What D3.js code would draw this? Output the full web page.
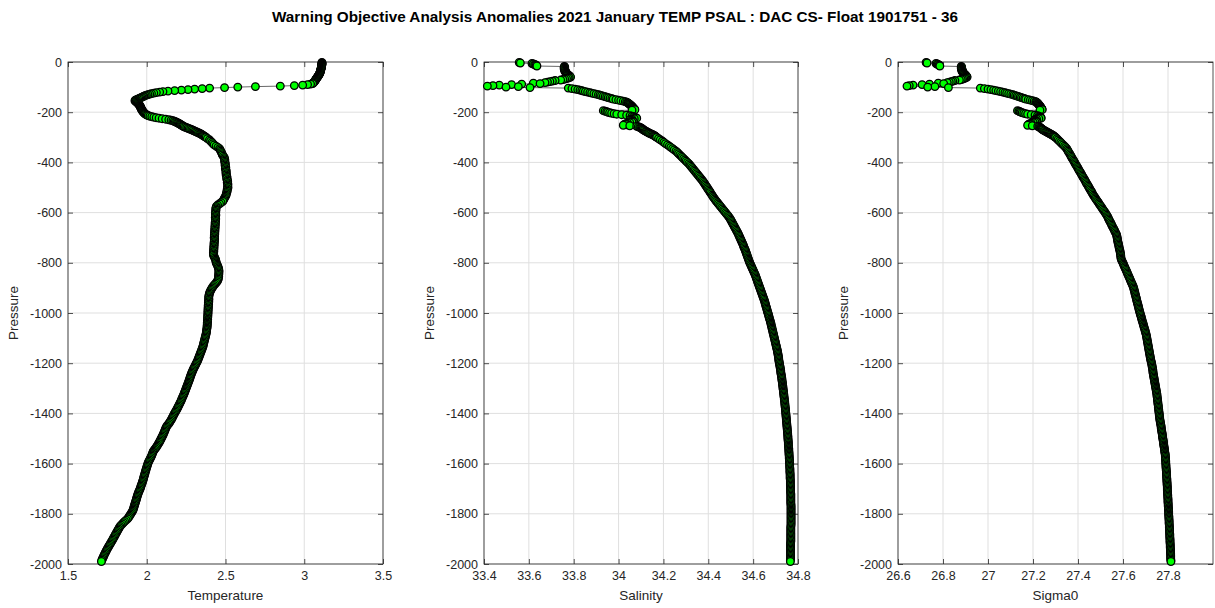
<!DOCTYPE html>
<html>
<head>
<meta charset="utf-8">
<script src="https://cdn.jsdelivr.net/npm/d3@7"></script>
<style>
  html, body { margin: 0; padding: 0; background: #fff; }
  svg { display: block; }
  text { font-family: "Liberation Sans", Arial, Helvetica, sans-serif; }
</style>
</head>
<body>
<svg id="chart" width="1215" height="608"></svg>
<script>
// Float 1901751, cycle 36: pressure levels (dbar) and the measured profiles.
const pres = [
  2,4,6,8,10,12,14,16,18,20,
  22,24,26,28,30,32,34,36,38,40,
  42,44,46,48,50,52,54,56,58,60,
  62,64,66,68,70,72,74,76,78,80,
  82,84,86,88,90,92,94,96,98,100,
  102,104,106,108,110,112,114,116,118,120,
  122,124,126,128,130,132,134,136,138,140,
  142,144,146,148,150,152,154,156,158,160,
  162,164,166,168,170,172,174,176,178,180,
  182,184,186,188,190,192,194,196,198,200,
  202,204,206,208,210,212,214,216,218,220,
  222,224,226,228,230,232,234,236,238,240,
  242,244,246,248,250,252,254,256,258,260,
  262,264,266,268,270,272,274,276,278,280,
  282,284,286,288,290,292,294,296,298,300,
  305,310,315,320,325,330,335,340,345,350,
  355,360,365,370,375,380,385,390,395,400,
  405,410,415,420,425,430,435,440,445,450,
  455,460,465,470,475,480,485,490,495,500,
  505,510,515,520,525,530,535,540,545,550,
  555,560,565,570,575,580,585,590,595,600,
  605,610,615,620,625,630,635,640,645,650,
  655,660,665,670,675,680,685,690,695,700,
  705,710,715,720,725,730,735,740,745,750,
  755,760,765,770,775,780,785,790,795,800,
  805,810,815,820,825,830,835,840,845,850,
  855,860,865,870,875,880,885,890,895,900,
  905,910,915,920,925,930,935,940,945,950,
  955,960,965,970,975,980,985,990,995,1000,
  1005,1010,1015,1020,1025,1030,1035,1040,1045,1050,
  1055,1060,1065,1070,1075,1080,1085,1090,1095,1100,
  1105,1110,1115,1120,1125,1130,1135,1140,1145,1150,
  1155,1160,1165,1170,1175,1180,1185,1190,1195,1200,
  1205,1210,1215,1220,1225,1230,1235,1240,1245,1250,
  1255,1260,1265,1270,1275,1280,1285,1290,1295,1300,
  1305,1310,1315,1320,1325,1330,1335,1340,1345,1350,
  1355,1360,1365,1370,1375,1380,1385,1390,1395,1400,
  1405,1410,1415,1420,1425,1430,1435,1440,1445,1450,
  1455,1460,1465,1470,1475,1480,1485,1490,1495,1500,
  1505,1510,1515,1520,1525,1530,1535,1540,1545,1550,
  1555,1560,1565,1570,1575,1580,1585,1590,1595,1600,
  1605,1610,1615,1620,1625,1630,1635,1640,1645,1650,
  1655,1660,1665,1670,1675,1680,1685,1690,1695,1700,
  1705,1710,1715,1720,1725,1730,1735,1740,1745,1750,
  1755,1760,1765,1770,1775,1780,1785,1790,1795,1800,
  1805,1810,1815,1820,1825,1830,1835,1840,1845,1850,
  1855,1860,1865,1870,1875,1880,1885,1890,1895,1900,
  1905,1910,1915,1920,1925,1930,1935,1940,1945,1950,
  1955,1960,1965,1970,1975,1980,1985,1990
];

const temp = [
  3.112,3.113,3.113,3.112,3.112,3.111,3.111,3.110,3.110,3.109,
  3.109,3.108,3.107,3.106,3.105,3.104,3.104,3.103,3.102,3.101,
  3.100,3.099,3.097,3.096,3.094,3.092,3.090,3.088,3.086,3.084,
  3.081,3.079,3.077,3.075,3.073,3.071,3.069,3.067,3.064,3.062,
  3.059,3.056,3.053,3.040,3.021,2.990,2.937,2.848,2.690,2.578,
  2.494,2.399,2.352,2.304,2.262,2.220,2.177,2.135,2.103,2.082,
  2.061,2.045,2.030,2.019,2.008,1.998,1.990,1.982,1.977,1.970,
  1.963,1.956,1.950,1.942,1.935,1.928,1.925,1.928,1.932,1.936,
  1.940,1.943,1.946,1.949,1.952,1.954,1.956,1.958,1.960,1.961,
  1.962,1.964,1.965,1.967,1.968,1.970,1.972,1.974,1.977,1.979,
  1.982,1.985,1.988,1.992,1.997,2.003,2.010,2.020,2.032,2.045,
  2.060,2.078,2.098,2.120,2.140,2.155,2.166,2.175,2.182,2.189,
  2.195,2.201,2.207,2.212,2.217,2.222,2.227,2.232,2.238,2.246,
  2.254,2.262,2.270,2.278,2.286,2.293,2.300,2.307,2.314,2.321,
  2.328,2.335,2.341,2.347,2.352,2.356,2.361,2.366,2.371,2.377,
  2.385,2.398,2.405,2.414,2.420,2.428,2.440,2.452,2.462,2.466,
  2.470,2.474,2.478,2.480,2.486,2.492,2.494,2.496,2.494,2.497,
  2.499,2.497,2.500,2.502,2.499,2.503,2.505,2.502,2.506,2.504,
  2.508,2.510,2.507,2.512,2.514,2.511,2.515,2.515,2.513,2.516,
  2.512,2.510,2.511,2.507,2.505,2.504,2.500,2.495,2.491,2.487,
  2.483,2.472,2.462,2.450,2.442,2.440,2.438,2.440,2.437,2.438,
  2.436,2.439,2.437,2.435,2.438,2.436,2.437,2.434,2.436,2.433,
  2.435,2.432,2.434,2.431,2.433,2.430,2.432,2.429,2.431,2.428,
  2.431,2.429,2.430,2.427,2.429,2.426,2.428,2.425,2.427,2.424,
  2.426,2.423,2.425,2.424,2.428,2.432,2.436,2.438,2.440,2.441,
  2.445,2.449,2.452,2.455,2.457,2.458,2.459,2.457,2.458,2.456,
  2.457,2.455,2.454,2.451,2.446,2.440,2.433,2.426,2.420,2.415,
  2.410,2.406,2.402,2.399,2.397,2.395,2.394,2.393,2.395,2.392,
  2.394,2.391,2.393,2.390,2.392,2.389,2.391,2.388,2.390,2.388,
  2.389,2.387,2.388,2.386,2.387,2.385,2.386,2.384,2.385,2.383,
  2.384,2.382,2.381,2.380,2.379,2.378,2.376,2.374,2.372,2.370,
  2.368,2.366,2.364,2.362,2.360,2.358,2.356,2.353,2.350,2.347,
  2.344,2.341,2.338,2.335,2.332,2.329,2.326,2.323,2.319,2.315,
  2.311,2.307,2.303,2.299,2.295,2.292,2.288,2.285,2.282,2.279,
  2.276,2.274,2.271,2.268,2.265,2.262,2.259,2.256,2.253,2.250,
  2.247,2.244,2.241,2.238,2.235,2.231,2.228,2.224,2.221,2.218,
  2.214,2.210,2.206,2.202,2.198,2.194,2.190,2.185,2.181,2.176,
  2.172,2.168,2.164,2.160,2.156,2.151,2.146,2.141,2.135,2.128,
  2.124,2.120,2.117,2.114,2.111,2.107,2.104,2.100,2.096,2.092,
  2.088,2.084,2.080,2.075,2.070,2.065,2.060,2.054,2.048,2.042,
  2.039,2.036,2.033,2.030,2.026,2.022,2.018,2.014,2.010,2.007,
  2.005,2.002,2.000,1.997,1.995,1.992,1.990,1.988,1.986,1.983,
  1.981,1.979,1.977,1.974,1.972,1.969,1.966,1.963,1.961,1.958,
  1.955,1.951,1.948,1.945,1.942,1.940,1.937,1.935,1.933,1.930,
  1.928,1.925,1.923,1.920,1.918,1.915,1.913,1.909,1.904,1.899,
  1.894,1.889,1.884,1.878,1.869,1.860,1.852,1.845,1.837,1.830,
  1.826,1.821,1.817,1.812,1.808,1.803,1.799,1.795,1.790,1.786,
  1.782,1.777,1.772,1.768,1.763,1.758,1.754,1.749,1.745,1.741,
  1.737,1.733,1.729,1.726,1.722,1.718,1.715,1.712
];

const psal = [
  33.557,33.562,33.614,33.620,33.626,33.630,33.633,33.636,33.758,33.760,
  33.758,33.757,33.759,33.760,33.758,33.761,33.762,33.760,33.763,33.764,
  33.766,33.767,33.769,33.771,33.773,33.776,33.779,33.782,33.784,33.786,
  33.780,33.775,33.768,33.760,33.752,33.742,33.717,33.705,33.694,33.683,
  33.672,33.620,33.650,33.568,33.523,33.468,33.440,33.415,33.553,33.498,
  33.605,33.776,33.792,33.806,33.818,33.828,33.836,33.843,33.852,33.862,
  33.872,33.880,33.890,33.900,33.910,33.917,33.924,33.932,33.940,33.947,
  33.954,33.962,33.970,33.976,33.988,34.000,34.010,34.021,34.030,34.036,
  34.040,34.043,34.046,34.049,34.051,34.054,34.057,34.059,34.061,34.063,
  34.065,34.066,34.069,34.071,34.073,34.060,33.932,33.940,33.947,33.952,
  33.960,33.969,33.980,33.992,34.014,34.036,34.051,34.060,34.066,34.072,
  34.078,34.081,34.070,34.060,34.051,34.055,34.060,34.064,34.066,34.060,
  34.050,34.040,34.033,34.027,34.036,34.021,34.050,34.081,34.088,34.094,
  34.098,34.102,34.105,34.108,34.110,34.114,34.118,34.122,34.126,34.130,
  34.134,34.138,34.143,34.148,34.153,34.157,34.161,34.164,34.167,34.170,
  34.178,34.186,34.195,34.202,34.209,34.218,34.226,34.233,34.241,34.248,
  34.256,34.262,34.267,34.273,34.279,34.284,34.290,34.296,34.301,34.307,
  34.313,34.318,34.322,34.327,34.331,34.336,34.340,34.345,34.349,34.354,
  34.358,34.363,34.367,34.372,34.376,34.380,34.384,34.387,34.391,34.395,
  34.398,34.402,34.406,34.409,34.413,34.417,34.420,34.424,34.428,34.432,
  34.436,34.441,34.445,34.450,34.454,34.459,34.463,34.468,34.472,34.477,
  34.481,34.486,34.490,34.494,34.498,34.501,34.504,34.507,34.510,34.513,
  34.516,34.519,34.522,34.525,34.528,34.531,34.534,34.536,34.539,34.541,
  34.544,34.546,34.549,34.551,34.554,34.556,34.558,34.560,34.563,34.565,
  34.567,34.569,34.571,34.573,34.575,34.577,34.579,34.581,34.583,34.585,
  34.588,34.590,34.593,34.595,34.598,34.600,34.603,34.605,34.608,34.610,
  34.612,34.614,34.616,34.618,34.620,34.622,34.624,34.626,34.628,34.630,
  34.632,34.634,34.636,34.638,34.640,34.642,34.644,34.646,34.648,34.650,
  34.652,34.653,34.655,34.656,34.658,34.660,34.661,34.663,34.664,34.666,
  34.668,34.669,34.671,34.672,34.674,34.676,34.677,34.679,34.680,34.681,
  34.683,34.684,34.685,34.687,34.688,34.689,34.691,34.692,34.693,34.695,
  34.696,34.697,34.699,34.700,34.701,34.703,34.704,34.705,34.707,34.708,
  34.709,34.710,34.711,34.712,34.713,34.714,34.714,34.715,34.716,34.717,
  34.718,34.719,34.720,34.721,34.722,34.723,34.723,34.724,34.725,34.726,
  34.727,34.728,34.728,34.729,34.730,34.731,34.731,34.732,34.733,34.733,
  34.734,34.735,34.735,34.736,34.737,34.737,34.738,34.739,34.739,34.740,
  34.741,34.741,34.742,34.742,34.743,34.744,34.744,34.745,34.745,34.746,
  34.746,34.747,34.747,34.748,34.748,34.749,34.749,34.750,34.750,34.751,
  34.751,34.752,34.752,34.753,34.753,34.754,34.754,34.755,34.755,34.755,
  34.756,34.756,34.757,34.757,34.757,34.758,34.758,34.759,34.759,34.759,
  34.760,34.760,34.760,34.761,34.761,34.761,34.762,34.762,34.762,34.763,
  34.763,34.763,34.763,34.764,34.764,34.764,34.764,34.765,34.765,34.765,
  34.765,34.765,34.766,34.766,34.766,34.766,34.766,34.767,34.767,34.767,
  34.767,34.767,34.767,34.768,34.768,34.768,34.768,34.768,34.768,34.768,
  34.768,34.768,34.769,34.769,34.769,34.769,34.769,34.769,34.769,34.769,
  34.769,34.769,34.769,34.769,34.769,34.769,34.769,34.769,34.769,34.768,
  34.768,34.768,34.768,34.768,34.768,34.768,34.768,34.768,34.768,34.768,
  34.768,34.768,34.767,34.767,34.767,34.767,34.767,34.767,34.767,34.767,
  34.767,34.767,34.767,34.767,34.767,34.766,34.766,34.766
];

const sig0 = [
  26.725,26.729,26.769,26.774,26.778,26.782,26.784,26.786,26.881,26.883,
  26.882,26.881,26.883,26.884,26.882,26.885,26.886,26.884,26.887,26.888,
  26.889,26.890,26.893,26.895,26.898,26.900,26.902,26.904,26.906,26.907,
  26.902,26.898,26.893,26.887,26.881,26.873,26.853,26.844,26.837,26.828,
  26.819,26.779,26.803,26.740,26.707,26.667,26.650,26.640,26.764,26.732,
  26.824,26.966,26.984,27.000,27.013,27.025,27.035,27.046,27.056,27.066,
  27.075,27.083,27.092,27.101,27.110,27.116,27.123,27.130,27.136,27.143,
  27.149,27.156,27.163,27.168,27.179,27.188,27.197,27.205,27.212,27.215,
  27.218,27.221,27.222,27.224,27.226,27.228,27.230,27.231,27.233,27.234,
  27.236,27.237,27.239,27.240,27.241,27.231,27.131,27.137,27.142,27.146,
  27.152,27.159,27.167,27.176,27.192,27.209,27.220,27.226,27.230,27.233,
  27.236,27.236,27.226,27.216,27.207,27.209,27.211,27.214,27.215,27.209,
  27.201,27.192,27.186,27.181,27.187,27.176,27.197,27.221,27.226,27.230,
  27.233,27.236,27.238,27.241,27.244,27.248,27.252,27.256,27.260,27.264,
  27.268,27.272,27.276,27.280,27.284,27.288,27.291,27.294,27.297,27.300,
  27.306,27.311,27.317,27.323,27.328,27.334,27.340,27.345,27.350,27.353,
  27.356,27.359,27.363,27.366,27.369,27.372,27.375,27.379,27.382,27.385,
  27.388,27.391,27.395,27.398,27.401,27.404,27.407,27.411,27.414,27.417,
  27.420,27.423,27.427,27.430,27.433,27.436,27.439,27.443,27.446,27.449,
  27.452,27.455,27.459,27.462,27.465,27.468,27.472,27.476,27.479,27.483,
  27.487,27.491,27.494,27.498,27.502,27.506,27.509,27.513,27.517,27.521,
  27.524,27.528,27.531,27.534,27.536,27.539,27.542,27.545,27.548,27.550,
  27.553,27.556,27.559,27.562,27.564,27.567,27.570,27.572,27.573,27.574,
  27.575,27.576,27.577,27.578,27.580,27.581,27.582,27.583,27.584,27.586,
  27.587,27.588,27.589,27.590,27.590,27.591,27.592,27.594,27.597,27.600,
  27.602,27.604,27.607,27.609,27.612,27.614,27.617,27.619,27.621,27.624,
  27.626,27.629,27.631,27.633,27.636,27.638,27.641,27.643,27.646,27.647,
  27.649,27.650,27.652,27.653,27.654,27.656,27.657,27.659,27.660,27.661,
  27.663,27.664,27.666,27.667,27.669,27.670,27.671,27.673,27.674,27.676,
  27.677,27.679,27.681,27.682,27.684,27.685,27.687,27.689,27.690,27.692,
  27.693,27.695,27.697,27.698,27.700,27.701,27.703,27.704,27.705,27.706,
  27.707,27.708,27.709,27.710,27.711,27.712,27.713,27.714,27.715,27.716,
  27.717,27.718,27.719,27.720,27.721,27.722,27.723,27.724,27.726,27.727,
  27.728,27.729,27.730,27.731,27.732,27.733,27.733,27.734,27.735,27.736,
  27.737,27.738,27.739,27.740,27.741,27.742,27.743,27.744,27.745,27.746,
  27.747,27.748,27.749,27.750,27.751,27.751,27.752,27.753,27.753,27.754,
  27.755,27.755,27.756,27.757,27.757,27.758,27.759,27.759,27.760,27.761,
  27.761,27.762,27.763,27.763,27.764,27.765,27.766,27.767,27.768,27.769,
  27.770,27.770,27.771,27.772,27.773,27.774,27.775,27.775,27.776,27.777,
  27.778,27.779,27.780,27.780,27.781,27.782,27.783,27.784,27.785,27.785,
  27.786,27.787,27.788,27.788,27.789,27.789,27.789,27.790,27.790,27.790,
  27.791,27.791,27.791,27.792,27.792,27.793,27.793,27.793,27.794,27.794,
  27.794,27.795,27.795,27.795,27.796,27.796,27.796,27.797,27.797,27.797,
  27.797,27.798,27.798,27.798,27.799,27.799,27.799,27.800,27.800,27.800,
  27.800,27.801,27.801,27.801,27.802,27.802,27.802,27.803,27.803,27.803,
  27.803,27.804,27.804,27.804,27.805,27.805,27.805,27.805,27.806,27.806,
  27.806,27.807,27.807,27.807,27.807,27.808,27.808,27.808,27.808,27.809,
  27.809,27.809,27.809,27.810,27.810,27.810,27.810,27.811,27.811,27.811,
  27.811,27.812,27.812,27.812,27.812,27.812,27.813,27.813
];

// Axis ticks
const pressureTicks = [-2000,-1800,-1600,-1400,-1200,-1000,-800,-600,-400,-200,0];
const tempTicks = [1.5, 2, 2.5, 3, 3.5];
const psalTicks = [33.4, 33.6, 33.8, 34, 34.2, 34.4, 34.6, 34.8];
const sig0Ticks = [26.6, 26.8, 27, 27.2, 27.4, 27.6, 27.8];

const titleText = "Warning Objective Analysis Anomalies 2021 January TEMP PSAL :  DAC CS- Float 1901751 - 36";

// ---- layout ----
const plotTop = 62, plotBottom = 564;
const panels = [
  { values: temp, domain: [1.5, 3.5],  ticks: tempTicks, label: "Temperature", left: 68,  right: 383 },
  { values: psal, domain: [33.4, 34.8], ticks: psalTicks, label: "Salinity",    left: 484, right: 798 },
  { values: sig0, domain: [26.6, 28.0], ticks: sig0Ticks, label: "Sigma0",      left: 898, right: 1213 }
];

const axisColor = "#262626";
const gridColor = "#dfdfdf";
const tickLen = 5;
const fontStack = "'Liberation Sans', Arial, Helvetica, sans-serif";

const svg = d3.select("#chart");

svg.append("text")
  .attr("x", 615).attr("y", 22)
  .attr("text-anchor", "middle")
  .attr("font-size", 15).attr("font-weight", "bold")
  .attr("fill", "#000")
  .attr("textLength", 686).attr("lengthAdjust", "spacingAndGlyphs")
  .text(titleText);

const y = d3.scaleLinear().domain([-2000, 0]).range([plotBottom, plotTop]);

panels.forEach(p => {
  const x = d3.scaleLinear().domain(p.domain).range([p.left, p.right]);
  const g = svg.append("g");

  // grid
  g.append("g").selectAll("line").data(p.ticks).join("line")
    .attr("x1", d => x(d)).attr("x2", d => x(d))
    .attr("y1", plotTop).attr("y2", plotBottom)
    .attr("stroke", gridColor).attr("stroke-width", 1);
  g.append("g").selectAll("line").data(pressureTicks).join("line")
    .attr("x1", p.left).attr("x2", p.right)
    .attr("y1", d => y(d)).attr("y2", d => y(d))
    .attr("stroke", gridColor).attr("stroke-width", 1);

  // axes with inward ticks on all four sides
  const styleAxis = sel => {
    sel.select(".domain").remove();
    sel.selectAll(".tick line").attr("stroke", axisColor).attr("stroke-width", 0.8);
    sel.selectAll(".tick text").attr("fill", axisColor).attr("font-size", 12.5)
      .attr("font-family", fontStack);
  };
  g.append("g").attr("transform", `translate(0,${plotBottom})`)
    .call(d3.axisBottom(x).tickValues(p.ticks).tickSizeInner(-tickLen).tickSizeOuter(0)
      .tickPadding(7).tickFormat(d => String(d)))
    .call(styleAxis);
  g.append("g").attr("transform", `translate(0,${plotTop})`)
    .call(d3.axisTop(x).tickValues(p.ticks).tickSizeInner(-tickLen).tickSizeOuter(0).tickFormat(""))
    .call(styleAxis);
  g.append("g").attr("transform", `translate(${p.left},0)`)
    .call(d3.axisLeft(y).tickValues(pressureTicks).tickSizeInner(-tickLen).tickSizeOuter(0)
      .tickPadding(6).tickFormat(d => String(d)))
    .call(styleAxis);
  g.append("g").attr("transform", `translate(${p.right},0)`)
    .call(d3.axisRight(y).tickValues(pressureTicks).tickSizeInner(-tickLen).tickSizeOuter(0).tickFormat(""))
    .call(styleAxis);

  // box
  g.append("rect")
    .attr("x", p.left).attr("y", plotTop)
    .attr("width", p.right - p.left).attr("height", plotBottom - plotTop)
    .attr("fill", "none").attr("stroke", axisColor).attr("stroke-width", 0.8);

  // axis labels
  g.append("text")
    .attr("x", (p.left + p.right) / 2).attr("y", 600)
    .attr("text-anchor", "middle").attr("font-size", 13.5).attr("fill", axisColor)
    .text(p.label);
  g.append("text")
    .attr("transform", `translate(${p.left - 50},${(plotTop + plotBottom) / 2}) rotate(-90)`)
    .attr("text-anchor", "middle").attr("font-size", 13.5).attr("fill", axisColor)
    .text("Pressure");

  // profile: thin connecting line, then markers
  const pts = pres.map((pr, i) => [p.values[i], -pr]).filter(d => d[0] != null);
  g.append("path")
    .datum(pts)
    .attr("d", d3.line().x(d => x(d[0])).y(d => y(d[1])))
    .attr("fill", "none").attr("stroke", "#000").attr("stroke-width", 0.6);
  g.append("g").selectAll("circle").data(pts).join("circle")
    .attr("cx", d => x(d[0])).attr("cy", d => y(d[1]))
    .attr("r", 3.8)
    .attr("fill", "#00ff00").attr("stroke", "#000").attr("stroke-width", 1.3);
});
</script>
</body>
</html>
